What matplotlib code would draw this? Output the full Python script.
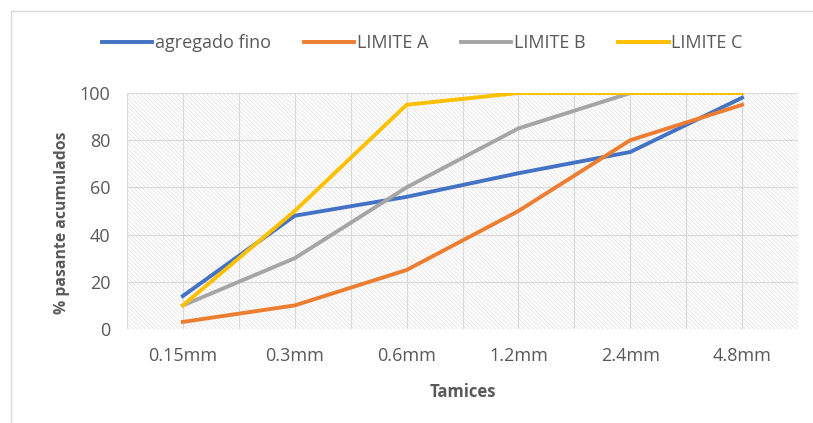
import numpy as np
import matplotlib
matplotlib.use('Agg')
import matplotlib.pyplot as plt
from matplotlib.patches import Rectangle

# datos de la curva granulometrica
tamices = ['0.15mm', '0.3mm', '0.6mm', '1.2mm', '2.4mm', '4.8mm']
agregado_fino = [14, 48, 56, 66, 75, 98]
limite_a = [3, 10, 25, 50, 80, 95]
limite_b = [10, 30, 60, 85, 100, 100]
limite_c = [10, 50, 95, 100, 100, 100]

series = [
    ('agregado fino', agregado_fino, '#4472c4'),
    ('LIMITE A', limite_a, '#ed7d31'),
    ('LIMITE B', limite_b, '#a5a5a5'),
    ('LIMITE C', limite_c, '#ffc000'),
]

plt.rcParams['font.family'] = ['Open Sans', 'DejaVu Sans']
plt.rcParams['hatch.linewidth'] = 0.5
plt.rcParams['hatch.color'] = '#e0e0e0'

fig = plt.figure(figsize=(8.13, 4.23), dpi=100)
ax = fig.add_axes([127 / 813, 94 / 423, 671 / 813, 236 / 423])

# borde del grafico
fig.patches.append(Rectangle((11 / 813, -0.05), 1.0, 1 - 11 / 423 + 0.05,
                             transform=fig.transFigure, fill=False,
                             edgecolor='#d9d9d9', lw=1.0))

# fondo con tramado
ax.add_patch(Rectangle((0, 0), 1, 1, transform=ax.transAxes, facecolor='white',
                       edgecolor='#e0e0e0', hatch='\\\\\\\\\\\\\\\\', lw=0, zorder=0))

x = np.arange(len(tamices))
for gx in np.arange(-0.5, len(tamices), 0.5):
    ax.axvline(gx, color='#d9d9d9', lw=0.8, zorder=1)
for gy in range(0, 101, 20):
    ax.axhline(gy, color='#d9d9d9', lw=0.8, zorder=1)

for name, vals, col in series:
    ax.plot(x, vals, color=col, lw=2.8, label=name, zorder=3)

ax.set_xlim(-0.5, len(tamices) - 0.5)
ax.set_ylim(0, 100)
ax.set_yticks(range(0, 101, 20))
ax.set_xticks(x)
ax.set_xticklabels(tamices)
for s in ax.spines.values():
    s.set_visible(False)
ax.tick_params(length=0, colors='#595959', labelsize=13)
ax.tick_params(axis='x', pad=13)
ax.tick_params(axis='y', pad=12)

ax.set_xlabel('Tamices', fontsize=12, fontweight='bold', color='#595959', labelpad=13)
ax.set_ylabel('% pasante acumulados', fontsize=11.3, fontweight='bold', color='#595959', labelpad=7)
ax.yaxis.label.set_y(0.45)

ax.legend(loc='center', bbox_to_anchor=(0.44, 1.21), ncol=4, frameon=False,
          fontsize=13, labelcolor='#595959', handlelength=2.8, handletextpad=0.15,
          columnspacing=1.8, borderpad=0)

fig.savefig('out.png', dpi=100)
